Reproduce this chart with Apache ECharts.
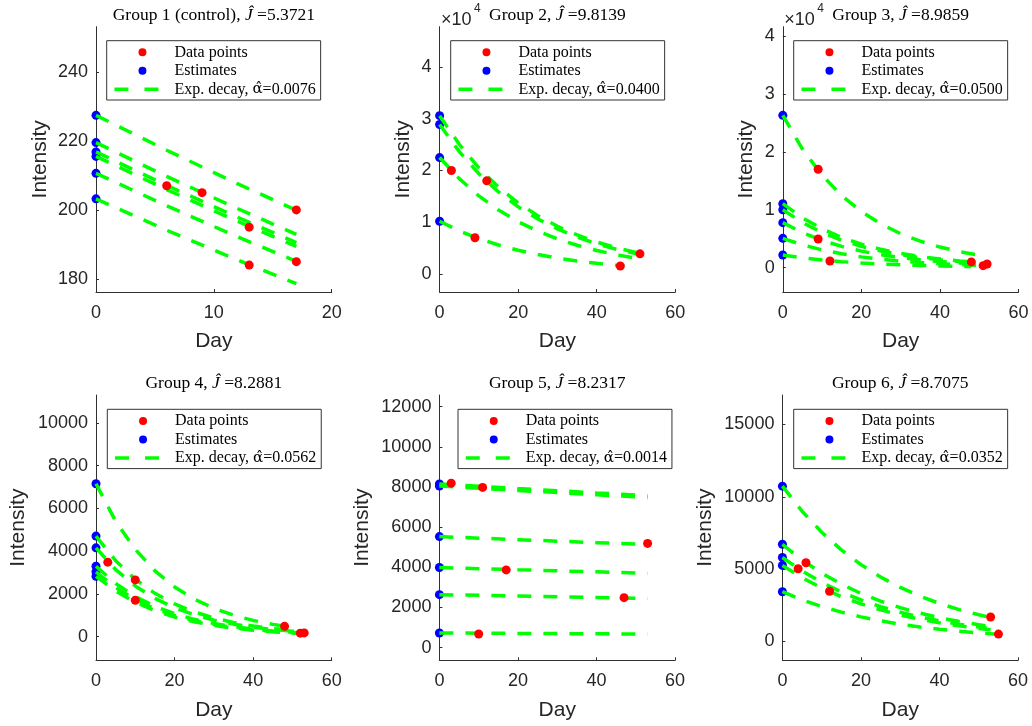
<!DOCTYPE html>
<html><head><meta charset="utf-8">
<script src="https://cdn.jsdelivr.net/npm/echarts@6/dist/echarts.min.js"></script>
<style>html,body{margin:0;padding:0;background:#fff}#chart{width:1032px;height:726px}</style>
</head><body><div id="chart"></div>
<script>
// ---------------- DATA ----------------
const groupNames = ['Group 1 (control)', 'Group 2', 'Group 3', 'Group 4', 'Group 5', 'Group 6'];
const jHatValues = ['5.3721', '9.8139', '8.9859', '8.2881', '8.2317', '8.7075'];
const alphaHatValues = ['0.0076', '0.0400', '0.0500', '0.0562', '0.0014', '0.0352'];

// Group 1
const g1Days = [6, 9, 13, 13, 17, 17];
const g1Values = [207, 205, 195, 184, 200, 185];
const g1Est = [227.4, 219.5, 216.8, 215.5, 210.6, 203.2];
const g1Curves = [
  [[0,227.4],[6,217.3],[12,207.6],[17,199.9]],
  [[0,219.5],[6,209.7],[12,200.4],[17,192.9]],
  [[0,216.8],[6,207.1],[12,197.9],[17,190.5]],
  [[0,215.5],[6,205.9],[12,196.7],[17,189.4]],
  [[0,210.6],[6,201.2],[12,192.2],[17,185.1]],
  [[0,203.2],[6,194.1],[12,185.5],[17,178.6]]
];
const g1XTicks = [0, 10, 20];
const g1YTicks = [180, 200, 220, 240];

// Group 2
const g2Days = [3, 9, 12, 46, 51];
const g2Values = [20000, 7000, 18000, 1550, 3900];
const g2Est = [30600, 28900, 22500, 10200];
const g2Curves = [
  [[0,30600],[5,25052],[10,20511],[15,16793],[20,13749],[25,11258],[30,9217],[35,7546],[40,6178],[45,5058],[51,3978]],
  [[0,28900],[5,23660],[10,19372],[15,15860],[20,12985],[25,10632],[30,8705],[35,7127],[40,5835],[45,4777],[51,3757]],
  [[0,22500],[5,18421],[10,15082],[15,12348],[20,10109],[25,8278],[30,6777],[35,5549],[40,4543],[45,3719],[49,3170]],
  [[0,10200],[5,8351],[10,6837],[15,5598],[20,4583],[25,3753],[30,3072],[35,2515],[40,2059],[45,1686],[47,1557]]
];
const g2XTicks = [0, 20, 40, 60];
const g2YTicks = [0, 10000, 20000, 30000, 40000];

// Group 3
const g3Days = [9, 9, 12, 48, 51, 52];
const g3Values = [17000, 4950, 1150, 1000, 350, 630];
const g3Est = [26300, 11050, 10000, 7770, 5060, 2190];
const g3Curves = [
  [[0,26300],[5,20482],[10,15951],[15,12424],[20,9676],[25,7535],[30,5868],[35,4571],[40,3558],[45,2772],[50,2159]],
  [[0,11050],[5,8606],[10,6702],[15,5220],[20,4065],[25,3166],[30,2465],[35,1920],[40,1495],[45,1165],[48,1002]],
  [[0,10000],[5,7788],[10,6065],[15,4724],[20,3679],[25,2865],[30,2231],[35,1738],[40,1353],[45,1054],[50,821]],
  [[0,7770],[5,6051],[10,4713],[15,3671],[20,2859],[25,2226],[30,1734],[35,1350],[40,1051],[45,819],[50,638],[52,577]],
  [[0,5060],[5,3941],[10,3069],[15,2390],[20,1862],[25,1450],[30,1129],[35,879],[40,685],[45,533],[51,395]],
  [[0,2190],[5,1706],[10,1328],[15,1035],[20,806],[25,627],[30,489],[35,381],[40,296],[45,231],[48,199]]
];
const g3XTicks = [0, 20, 40, 60];
const g3YTicks = [0, 10000, 20000, 30000, 40000];

// Group 4
const g4Days = [3, 10, 10, 48, 52, 53];
const g4Values = [3480, 2650, 1700, 480, 160, 170];
const g4Est = [7150, 4700, 4150, 3290, 3030, 2820];
const g4Curves = [
  [[0,7150],[5,5398],[10,4076],[15,3077],[20,2324],[25,1755],[30,1325],[35,1000],[40,755],[45,570],[48,482]],
  [[0,4700],[5,3549],[10,2679],[15,2023],[20,1528],[25,1153],[30,871],[35,658],[40,496],[45,375],[50,283],[52,253]],
  [[0,4150],[5,3133],[10,2366],[15,1786],[20,1349],[25,1018],[30,769],[35,581],[40,438],[45,331],[50,250],[52,223]],
  [[0,3290],[5,2484],[10,1875],[15,1416],[20,1069],[25,807],[30,610],[35,460],[40,347],[45,262],[50,198],[53,167]],
  [[0,3030],[5,2288],[10,1727],[15,1304],[20,985],[25,744],[30,561],[35,424],[40,320],[45,241],[50,182],[52,163]],
  [[0,2820],[5,2129],[10,1607],[15,1214],[20,917],[25,692],[30,523],[35,395],[40,298],[45,225],[50,170],[52,152]]
];
const g4XTicks = [0, 20, 40, 60];
const g4YTicks = [0, 2000, 4000, 6000, 8000, 10000];

// Group 5
const g5Days = [3, 11, 17, 47, 10, 53];
const g5Values = [8190, 7980, 3870, 2490, 680, 5190];
const g5Est = [8150, 8050, 5530, 3990, 2640, 730];
const g5Curves = [
  [[0,8150],[20,7925],[40,7706],[53,7568]],
  [[0,8050],[20,7828],[40,7611],[53,7475]],
  [[0,5530],[20,5377],[40,5229],[53,5135]],
  [[0,3990],[20,3880],[40,3773],[53,3705]],
  [[0,2640],[20,2567],[40,2496],[53,2451]],
  [[0,730],[20,710],[40,690],[53,678]]
];
const g5XTicks = [0, 20, 40, 60];
const g5YTicks = [0, 2000, 4000, 6000, 8000, 10000, 12000];

// Group 6
const g6Days = [4, 6, 12, 53, 55];
const g6Values = [5030, 5440, 3470, 1690, 510];
const g6Est = [10740, 6720, 5810, 5260, 3440];
const g6Curves = [
  [[0,10740],[5,9008],[10,7553],[15,6336],[20,5313],[25,4455],[30,3736],[35,3134],[40,2628],[45,2204],[50,1848],[53,1663]],
  [[0,6720],[5,5636],[10,4726],[15,3964],[20,3324],[25,2787],[30,2338],[35,1961],[40,1644],[45,1379],[50,1157],[53,1040]],
  [[0,5810],[5,4873],[10,4086],[15,3427],[20,2874],[25,2410],[30,2021],[35,1695],[40,1422],[45,1192],[50,1000],[52,932]],
  [[0,5260],[5,4412],[10,3699],[15,3103],[20,2602],[25,2182],[30,1830],[35,1535],[40,1287],[45,1079],[50,905],[53,814]],
  [[0,3440],[5,2885],[10,2419],[15,2029],[20,1702],[25,1427],[30,1197],[35,1004],[40,842],[45,706],[50,592],[55,496]]
];
const g6XTicks = [0, 20, 40, 60];
const g6YTicks = [0, 5000, 10000, 15000];

// ---------------- LAYOUT ----------------
const panels = [
  {days:g1Days, vals:g1Values, est:g1Est, curves:g1Curves, xTicks:g1XTicks, yTicks:g1YTicks, yMin:176.2, yMax:253.1, sci:false,
   left:96, top:26.7, nameGap:45.5, legLeft:106.7, legTop:40.7},
  {days:g2Days, vals:g2Values, est:g2Est, curves:g2Curves, xTicks:g2XTicks, yTicks:g2YTicks, yMin:-3480, yMax:47790, sci:true,
   left:439.6, top:26.7, nameGap:26, legLeft:450.7, legTop:40.7},
  {days:g3Days, vals:g3Values, est:g3Est, curves:g3Curves, xTicks:g3XTicks, yTicks:g3YTicks, yMin:-4200, yMax:41600, sci:true,
   left:782.8, top:26.7, nameGap:26, legLeft:793.7, legTop:40.7},
  {days:g4Days, vals:g4Values, est:g4Est, curves:g4Curves, xTicks:g4XTicks, yTicks:g4YTicks, yMin:-1110, yMax:11300, sci:false,
   left:96, top:395, nameGap:67, legLeft:107.3, legTop:409.3},
  {days:g5Days, vals:g5Values, est:g5Est, curves:g5Curves, xTicks:g5XTicks, yTicks:g5YTicks, yMin:-630, yMax:12580, sci:false,
   left:439.4, top:395, nameGap:67, legLeft:458, legTop:409.3},
  {days:g6Days, vals:g6Values, est:g6Est, curves:g6Curves, xTicks:g6XTicks, yTicks:g6YTicks, yMin:-1300, yMax:17040, sci:false,
   left:782.4, top:395, nameGap:67, legLeft:793.7, legTop:409.3}
];
const W = 235.7, H = 265.3;
const AX = '#303030';
const SANS = '"Liberation Sans", Arial, Helvetica, sans-serif';
const SERIF = '"Liberation Serif", "Times New Roman", serif';
const MATHSERIF = '"DejaVu Serif", "Liberation Serif", serif';
const GREEN = '#00ff00';
// legend marker: circle placed right of centre inside a 44x8 icon box (as in the MATLAB legend)
const LEG_DOT = 'path://M0,4L0,4.001M24,4A4,4 0 1,1 32,4A4,4 0 1,1 24,4ZM44,4L44,4.001';

const grids = [], xAxes = [], yAxes = [], series = [], legends = [], titles = [], graphics = [];
panels.forEach((p, i) => {
  const alphaName = 'Exp. decay, α\u0302=' + alphaHatValues[i];
  grids.push({left:p.left, top:p.top, width:W, height:H, containLabel:false, outerBoundsMode:'none', show:false});
  const xTicks = p.xTicks;
  xAxes.push({
    type:'value', gridIndex:i, min:xTicks[0], max:xTicks[xTicks.length-1], interval:xTicks[1]-xTicks[0],
    name:'Day', nameLocation:'middle', nameGap:39,
    nameTextStyle:{fontFamily:SANS, fontSize:21, color:'#262626', lineHeight:21},
    axisLine:{show:true, onZero:false, lineStyle:{color:AX, width:1}},
    axisTick:{show:true, inside:true, length:3, lineStyle:{color:AX}},
    axisLabel:{margin:12, fontFamily:SANS, fontSize:18, color:'#262626', lineHeight:18},
    splitLine:{show:false}
  });
  yAxes.push({
    type:'value', gridIndex:i, min:p.yMin, max:p.yMax, scale:true,
    name:'Intensity', nameLocation:'middle', nameGap:p.nameGap, nameRotate:90,
    nameTextStyle:{fontFamily:SANS, fontSize:21, color:'#262626', lineHeight:21},
    axisLine:{show:true, onZero:false, lineStyle:{color:AX, width:1}},
    axisTick:{show:true, inside:true, length:3, lineStyle:{color:AX}, customValues:p.yTicks},
    axisLabel:{margin:8, fontFamily:SANS, fontSize:18, color:'#262626', customValues:p.yTicks,
      formatter: p.sci ? (v => String(Math.round(v/10000))) : (v => String(Math.round(v)))},
    splitLine:{show:false}
  });
  series.push({
    type:'scatter', name:'Estimates', xAxisIndex:i, yAxisIndex:i, symbol:'circle', symbolSize:9,
    itemStyle:{color:'#0000ff', opacity:1}, z:2, data:p.est.map(v => [0, v])
  });
  p.curves.forEach(c => {
    series.push({
      type:'line', name:alphaName, xAxisIndex:i, yAxisIndex:i, symbol:'none', showSymbol:false,
      smooth:false, z:3,
      lineStyle:{color:GREEN, width:3.5, type:[14,12], cap:'butt'},
      itemStyle:{color:GREEN}, data:c
    });
  });
  series.push({
    type:'scatter', name:'Data points', xAxisIndex:i, yAxisIndex:i, symbol:'circle', symbolSize:9,
    itemStyle:{color:'#ff0000', opacity:1}, z:4, data:p.days.map((d, k) => [d, p.vals[k]])
  });
  legends.push({
    orient:'vertical', left:p.legLeft, top:p.legTop, selectedMode:false,
    backgroundColor:'#ffffff', borderColor:'#333333', borderWidth:1, borderRadius:0,
    padding:[3.6, 5, 2.7, 6], itemWidth:44, itemHeight:8, itemGap:2.5,
    lineStyle:{type:[14,16], width:3.5, color:GREEN},
    textStyle:{fontFamily:SERIF, fontSize:16, color:'#000', lineHeight:16, padding:[0,0,0,11],
      rich:{a:{fontFamily:MATHSERIF, fontSize:15, color:'#000', lineHeight:16}}},
    formatter: name => name.indexOf('Exp.') === 0
      ? 'Exp. decay, {a|α\u0302}=' + name.split('=')[1] : name,
    data:[{name:'Data points', icon:LEG_DOT, itemStyle:{color:'#ff0000', opacity:1, borderWidth:0}},
          {name:'Estimates', icon:LEG_DOT, itemStyle:{color:'#0000ff', opacity:1, borderWidth:0}},
          {name:alphaName, itemStyle:{color:'rgba(0,0,0,0)', opacity:0, borderWidth:0}}]
  });
  titles.push({
    text: groupNames[i] + ', {j|J\u0302} =' + jHatValues[i],
    left: p.left + W/2, top: p.top - 20, textAlign:'center', padding:0,
    textStyle:{fontFamily:SERIF, fontSize:17.5, fontWeight:'normal', color:'#000', lineHeight:17,
      rich:{j:{fontFamily:SERIF, fontSize:17.5, fontStyle:'italic', color:'#000', lineHeight:17}}}
  });
  if (p.sci) {
    graphics.push({type:'text', left:p.left + 1.5, top:p.top - 15.5,
      style:{text:'×10', fontFamily:SANS, fontSize:18, fill:'#262626'}});
    graphics.push({type:'text', left:p.left + 34.5, top:p.top - 24.5,
      style:{text:'4', fontFamily:SANS, fontSize:12, fill:'#262626'}});
  }
});

const chart = echarts.init(document.getElementById('chart'), null, {renderer:'canvas'});
chart.setOption({
  backgroundColor:'#ffffff', animation:false,
  grid:grids, xAxis:xAxes, yAxis:yAxes, series:series, legend:legends, title:titles, graphic:graphics
});
</script></body></html>
